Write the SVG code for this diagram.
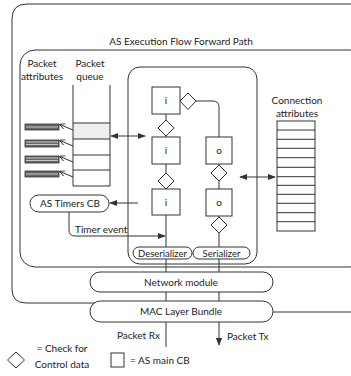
<svg xmlns="http://www.w3.org/2000/svg" width="351" height="376" viewBox="0 0 351 376">
<defs>
<style>
.ln{fill:none;stroke:#333;stroke-width:1}
.bx{fill:#fff;stroke:#333;stroke-width:1}
.t{font-family:Lato,"Liberation Sans",sans-serif;font-size:10px;fill:#222}
.s{font-size:9.5px}
.c{text-anchor:middle}
.bar{fill:#666;stroke:#333;stroke-width:0.8}
.st{stroke:#eee;stroke-width:0.7}
</style>
<marker id="ah" viewBox="0 0 10 10" refX="9" refY="5" markerWidth="8" markerHeight="8" markerUnits="userSpaceOnUse" orient="auto-start-reverse">
<path d="M0,1 L10,5 L0,9 Z" fill="#333"/>
</marker>
<marker id="tk" viewBox="0 0 10 10" refX="9" refY="5" markerWidth="6" markerHeight="6" markerUnits="userSpaceOnUse" orient="auto">
<path d="M0,0 L10,5 L0,10" fill="none" stroke="#333" stroke-width="1.5"/>
</marker>
</defs>

<g id="outer-frame">
<path class="ln" d="M360,4 H27 Q12,4 12,19 V289 Q12,303 26,303 H130"/>
<path class="ln" d="M230,312 H360"/>
</g>
<g id="forward-path-box">
<rect class="ln" x="20" y="50" width="345" height="217" rx="15"/>
<text class="t c" x="181" y="45">AS Execution Flow Forward Path</text>
</g>
<g id="execution-box">
<rect class="ln" x="128" y="67" width="129" height="197" rx="12"/>
</g>

<g id="packet-attributes">
<text class="t c" x="42" y="67">Packet</text>
<text class="t c" x="42" y="80">attributes</text>
<rect class="bar" x="25" y="124" width="34" height="6"/>
<line class="st" x1="26" y1="127" x2="58" y2="127"/>
<rect class="bar" x="25" y="140" width="34" height="7"/>
<line class="st" x1="26" y1="142" x2="58" y2="142"/>
<line class="st" x1="26" y1="144.5" x2="58" y2="144.5"/>
<rect class="bar" x="25" y="156" width="34" height="7"/>
<line class="st" x1="26" y1="158" x2="58" y2="158"/>
<line class="st" x1="26" y1="160.5" x2="58" y2="160.5"/>
<rect class="bar" x="25" y="171" width="34" height="6"/>
<line class="st" x1="26" y1="174" x2="58" y2="174"/>
</g>

<g id="packet-queue">
<text class="t c" x="90" y="67">Packet</text>
<text class="t c" x="90" y="80">queue</text>
<rect x="73" y="123" width="37" height="16" fill="#eee" stroke="none"/>
<path class="ln" d="M73,85 V186 M110,85 V186 M73,123 H110 M73,139 H110 M73,155 H110 M73,170 H110 M73,186 H110"/>
</g>

<g id="timers-cb">
<rect class="bx" x="30" y="195" width="79" height="17" rx="8.5"/>
<text class="t c" x="70" y="207">AS Timers CB</text>
</g>

<g id="i1"><rect class="bx" x="152" y="87" width="28" height="27"/><text class="t c" x="166" y="104">i</text></g>
<g id="i2"><rect class="bx" x="152" y="137" width="28" height="27"/><text class="t c" x="166" y="154">i</text></g>
<g id="i3"><rect class="bx" x="152" y="189" width="28" height="26"/><text class="t c" x="166" y="206">i</text></g>
<g id="o1"><rect class="bx" x="206" y="137" width="26" height="27"/><text class="t c" x="219" y="154">o</text></g>
<g id="o2"><rect class="bx" x="206" y="189" width="26" height="27"/><text class="t c" x="219" y="206">o</text></g>

<g id="check-diamonds">
<path class="bx" d="M188,93 L196,101 L188,109.5 L180,101 Z"/>
<path class="bx" d="M166,120 L174,128 L166,136 L158,128 Z"/>
<path class="bx" d="M166,173 L174,181 L166,189 L158,181 Z"/>
<path class="bx" d="M219,165 L227,173 L219,181 L211,173 Z"/>
<path class="bx" d="M219,217 L227,225 L219,233 L211,225 Z"/>
</g>

<g id="connection-attributes">
<text class="t c" x="297" y="104">Connection</text>
<text class="t c" x="297" y="117">attributes</text>
<rect class="bx" x="277" y="121" width="38" height="110"/>
<path class="ln" d="M277,130 H315 M277,139.3 H315 M277,148.3 H315 M277,157.7 H315 M277,167.3 H315 M277,176.7 H315 M277,185.3 H315 M277,194.3 H315 M277,203.3 H315 M277,212.7 H315 M277,221.7 H315"/>
</g>

<g id="connectors">
<line class="ln" x1="73" y1="130" x2="60" y2="124.5" marker-end="url(#tk)"/>
<line class="ln" x1="73" y1="146" x2="60" y2="140.5" marker-end="url(#tk)"/>
<line class="ln" x1="73" y1="162" x2="60" y2="156.5" marker-end="url(#tk)"/>
<line class="ln" x1="73" y1="177" x2="60" y2="171.5" marker-end="url(#tk)"/>
<line class="ln" x1="111" y1="136" x2="145" y2="136" marker-start="url(#ah)" marker-end="url(#ah)"/>
<line class="ln" x1="240" y1="177" x2="275" y2="177" marker-start="url(#ah)" marker-end="url(#ah)"/>
<line class="ln" x1="138" y1="203" x2="110" y2="203" marker-end="url(#ah)"/>
<path class="ln" d="M69,212 V230 Q69,236 75,236 H165" marker-end="url(#ah)"/>
<text class="t" x="75" y="233">Timer event</text>
<path class="ln" d="M196,101 H213 Q219,101 219,107 V137"/>
<path class="ln" d="M166,114 V120 M166,136 V137 M166,164 V173 M219,164 V165 M219,181 V189 M219,216 V217"/>
<path class="ln" d="M166,215 V347"/>
<path class="ln" d="M219,233 V345" marker-end="url(#ah)"/>
<text class="t" x="160" y="339" text-anchor="end">Packet Rx</text>
<text class="t" x="227" y="340">Packet Tx</text>
</g>

<g id="deserializer">
<rect class="bx" x="133" y="247" width="59" height="12" rx="6"/>
<text class="t s c" x="162.5" y="256.5">Deserializer</text>
</g>
<g id="serializer">
<rect class="bx" x="193" y="247" width="57" height="12" rx="6"/>
<text class="t s c" x="221.5" y="256.5">Serializer</text>
</g>
<g id="network-module">
<rect class="bx" x="90" y="272" width="183" height="20" rx="10"/>
<text class="t c" x="181" y="285.5">Network module</text>
</g>
<g id="mac-layer-bundle">
<rect class="bx" x="90" y="301" width="183" height="21" rx="10.5"/>
<text class="t c" x="181" y="315">MAC Layer Bundle</text>
</g>
<g id="legend">
<path class="bx" d="M16,352 L24.5,360 L16,368 L7.5,360 Z"/>
<text class="t c" x="62" y="352">= Check for</text>
<text class="t c" x="62" y="368">Control data</text>
<rect class="bx" x="111" y="353" width="13" height="14"/>
<text class="t" x="130" y="364">= AS main CB</text>
</g>
</svg>
